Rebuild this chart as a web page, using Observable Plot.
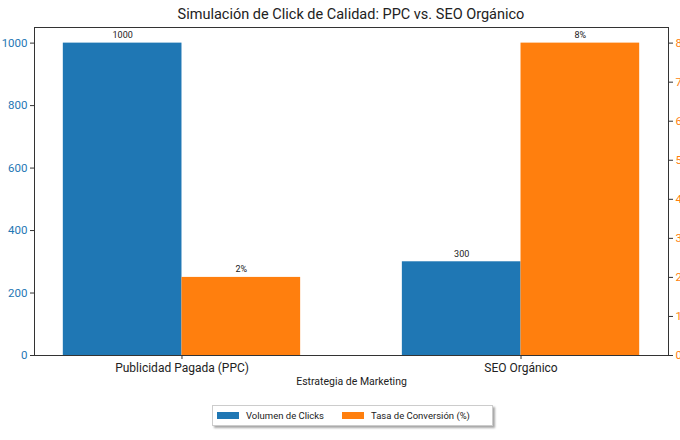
<!DOCTYPE html>
<html>
<head>
<meta charset="utf-8">
<script src="https://cdn.jsdelivr.net/npm/d3@7"></script>
<script src="https://cdn.jsdelivr.net/npm/@observablehq/plot@0.6"></script>
<style>
  html, body { margin: 0; padding: 0; background: #fff; overflow: hidden; }
  #wrap { position: relative; width: 680px; height: 440px; font-family: Roboto, "Open Sans", sans-serif; }
  #title { position: absolute; top: 6px; left: 34px; width: 634px; text-align: center; font-size: 14.5px; color: #222; }
  .layer { position: absolute; top: 0; left: 0; }
  #legend { position: absolute; top: 405px; left: 212px; width: 279px; height: 19px; border: 1px solid #ccc; background: #fff;
            box-shadow: 2px 2px 2px rgba(0,0,0,0.35); display: flex; align-items: center; font-size: 9.5px; color: #222; }
  .sw { display: inline-block; width: 22px; height: 7px; margin-left: 4px; margin-right: 7px; }
</style>
</head>
<body>
<div id="wrap">
  <div id="title">Simulación de Click de Calidad: PPC vs. SEO Orgánico</div>
  <div id="l1" class="layer"></div>
  <div id="l2" class="layer"></div>
  <div id="legend"></div>
</div>
<script>
const categories = ["Publicidad Pagada (PPC)", "SEO Orgánico"];
const clicks = [1000, 300];
const conversion = [2, 8];
const seriesNames = ["Volumen de Clicks", "Tasa de Conversión (%)"];
const leftTicks = [0, 200, 400, 600, 800, 1000];
const rightTicks = [0, 1, 2, 3, 4, 5, 6, 7, 8];
const xTitle = "Estrategia de Marketing";

const BLUE = "#1f77b4", ORANGE = "#ff7f0e";
const W = 0.35;
const common = {
  width: 680, height: 400,
  marginLeft: 34, marginRight: 12, marginTop: 27, marginBottom: 45,
  style: { fontFamily: "Roboto, sans-serif", background: "transparent", overflow: "visible" }
};

const blueData = categories.map((c, i) => ({ c, i, v: clicks[i] }));
const orangeData = categories.map((c, i) => ({ c, i, v: conversion[i] }));

const p1 = Plot.plot({
  ...common,
  x: { domain: [-0.435, 1.435], axis: null },
  y: { domain: [0, 1050], axis: null },
  marks: [
    Plot.rectY(blueData, { x1: d => d.i - W, x2: d => d.i, y1: 0, y2: "v", fill: BLUE }),
    Plot.text(blueData, { x: d => d.i - W / 2, y: "v", text: d => String(d.v), dy: -8, fontSize: 9, fill: "#222" }),
    Plot.axisY({ ticks: leftTicks, tickFormat: d => String(d), tickSize: 4, tickPadding: 3, fontSize: 11.5, color: BLUE, stroke: "#333", label: null }),
    Plot.axisX({ ticks: [0, 1], tickFormat: i => categories[i], tickSize: 4, tickPadding: 4, fontSize: 12, stroke: "#333", label: null }),
    Plot.text([xTitle], { frameAnchor: "bottom", dy: 29, fontSize: 10.5, fill: "#222" }),
    Plot.frame({ stroke: "#333", strokeWidth: 1 })
  ]
});
p1.querySelectorAll('[aria-label="y-axis tick label"] text').forEach(t => t.setAttribute("fill", BLUE));
p1.querySelectorAll('[aria-label="x-axis tick label"] text').forEach(t => t.setAttribute("fill", "#222"));
document.getElementById("l1").appendChild(p1);

const p2 = Plot.plot({
  ...common,
  x: { domain: [-0.435, 1.435], axis: null },
  y: { domain: [0, 8.4], axis: null },
  marks: [
    Plot.rectY(orangeData, { x1: d => d.i, x2: d => d.i + W, y1: 0, y2: "v", fill: ORANGE }),
    Plot.text(orangeData, { x: d => d.i + W / 2, y: "v", text: d => d.v + "%", dy: -8, fontSize: 9, fill: "#222" }),
    Plot.axisY({ anchor: "right", ticks: rightTicks, tickFormat: d => String(d), tickSize: 4, tickPadding: 3, fontSize: 11.5, color: ORANGE, stroke: "#333", label: null })
  ]
});
p2.querySelectorAll('[aria-label="y-axis tick label"] text').forEach(t => t.setAttribute("fill", ORANGE));
document.getElementById("l2").appendChild(p2);

const lg = document.getElementById("legend");
[[BLUE, seriesNames[0]], [ORANGE, seriesNames[1]]].forEach(([col, name], k) => {
  const sw = document.createElement("span");
  sw.className = "sw"; sw.style.background = col;
  if (k === 1) sw.style.marginLeft = "18px";
  const tx = document.createElement("span");
  tx.textContent = name;
  lg.appendChild(sw); lg.appendChild(tx);
});
</script>
</body>
</html>
